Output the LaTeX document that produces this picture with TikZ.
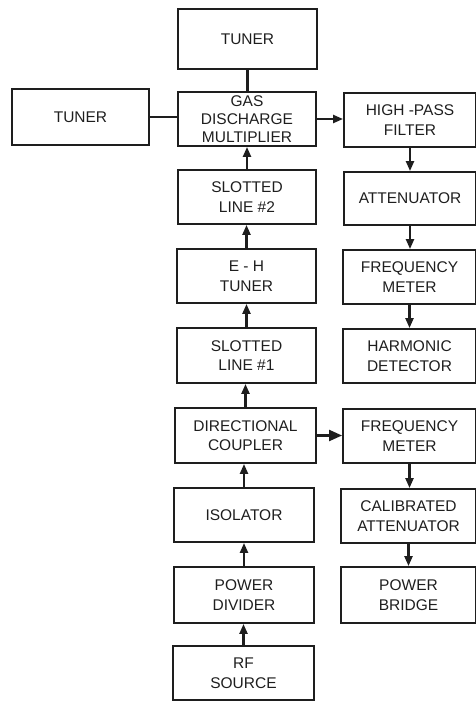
\documentclass[tikz,border=0pt]{standalone}
\usepackage{fontspec}
\setmainfont{Liberation Sans}
\usetikzlibrary{arrows.meta}
\definecolor{ink}{HTML}{1E1E1E}
\tikzset{
  box/.style={draw=ink, line width=1.9pt, rectangle, align=center, inner sep=0pt,
    text=ink, font=\fontsize{15.5}{19.5}\selectfont},
  tightbox/.style={box, font=\fontsize{15.5}{18.3}\selectfont, text depth=0pt},
  conn/.style={draw=ink, line width=2.2pt},
  arr/.style={conn, -{Triangle[length=10pt,width=8pt]}},
  bigarr/.style={conn, -{Triangle[length=13pt,width=11pt]}}
}
\begin{document}
\begin{tikzpicture}[x=1pt,y=-1pt]
\useasboundingbox (0,0) rectangle (475,702);
\node[box, minimum width=139pt, minimum height=60pt] (tt) at (247.5,39) {TUNER};
\node[box, minimum width=137pt, minimum height=56pt] (tl) at (80.5,117) {TUNER};
\node[tightbox, minimum width=138pt, minimum height=54pt] (gas) at (247,119) {GAS\\DISCHARGE\\MULTIPLIER};
\node[box, minimum width=132pt, minimum height=54pt] (hpf) at (410,120) {HIGH -PASS\\FILTER};
\node[box, minimum width=138pt, minimum height=54pt] (sl2) at (247,197) {SLOTTED\\LINE \#2};
\node[box, minimum width=132pt, minimum height=53pt] (att) at (410,198.5) {ATTENUATOR};
\node[box, minimum width=139pt, minimum height=54pt] (eh) at (246.5,276) {E - H\\TUNER};
\node[box, minimum width=133pt, minimum height=54pt] (fm1) at (409.5,277) {FREQUENCY\\METER};
\node[box, minimum width=139pt, minimum height=55pt] (sl1) at (246.5,355.5) {SLOTTED\\LINE \#1};
\node[box, minimum width=133pt, minimum height=54pt] (hd) at (409.5,356) {HARMONIC\\DETECTOR};
\node[box, minimum width=141pt, minimum height=55pt] (dc) at (245.5,435.5) {DIRECTIONAL\\COUPLER};
\node[box, minimum width=133pt, minimum height=54pt] (fm2) at (409.5,436) {FREQUENCY\\METER};
\node[box, minimum width=140pt, minimum height=54pt] (iso) at (244,515) {ISOLATOR};
\node[box, minimum width=135pt, minimum height=54pt] (cal) at (408.5,516) {CALIBRATED\\ATTENUATOR};
\node[box, minimum width=140pt, minimum height=56pt] (pd) at (244,595) {POWER\\DIVIDER};
\node[box, minimum width=135pt, minimum height=56pt] (pb) at (408.5,595) {POWER\\BRIDGE};
\node[box, minimum width=141pt, minimum height=54pt] (rf) at (243.5,673) {RF\\SOURCE};
% plain connectors
\draw[conn] (tt.south) -- (tt.south |- gas.north);
\draw[conn] (tl.east) -- (tl.east -| gas.west);
% left column, upward
\draw[arr] (rf.north) -- (rf.north |- pd.south);
\draw[arr] (pd.north) -- (pd.north |- iso.south);
\draw[arr] (iso.north) -- (iso.north |- dc.south);
\draw[arr] (dc.north) -- (dc.north |- sl1.south);
\draw[arr] (sl1.north) -- (sl1.north |- eh.south);
\draw[arr] (eh.north) -- (eh.north |- sl2.south);
\draw[arr] (sl2.north) -- (sl2.north |- gas.south);
% horizontal
\draw[arr] (gas.east) -- (gas.east -| hpf.west);
\draw[bigarr] (dc.east) -- (dc.east -| fm2.west);
% right columns, downward
\draw[arr] (hpf.south) -- (hpf.south |- att.north);
\draw[arr] (att.south) -- (att.south |- fm1.north);
\draw[arr] (fm1.south) -- (fm1.south |- hd.north);
\draw[arr] (fm2.south) -- (fm2.south |- cal.north);
\draw[arr] (cal.south) -- (cal.south |- pb.north);
\end{tikzpicture}
\end{document}
